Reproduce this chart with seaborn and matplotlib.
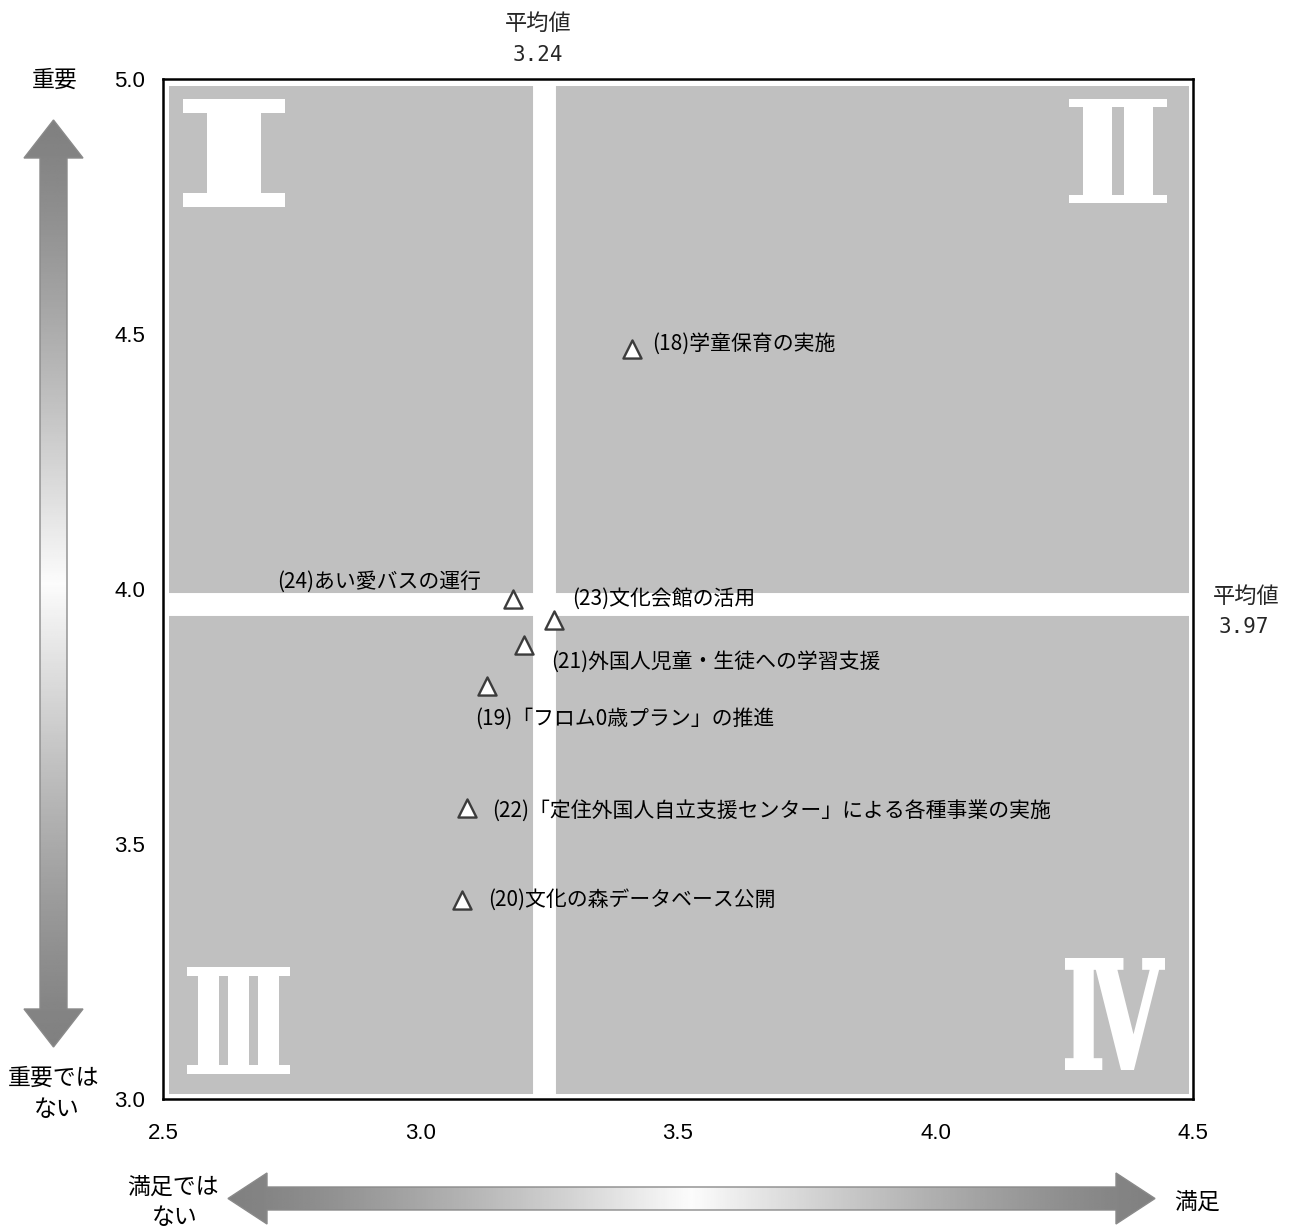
import numpy as np
import pandas as pd
import matplotlib
matplotlib.use("Agg")
import matplotlib.pyplot as plt
import seaborn as sns
from matplotlib.patches import Polygon, PathPatch, Rectangle
from matplotlib.textpath import TextPath
from matplotlib.font_manager import FontProperties, findfont
from matplotlib.ft2font import FT2Font
from matplotlib.transforms import Affine2D

# ---- data -------------------------------------------------------------
labels = [
    "(18)学童保育の実施",
    "(19)「フロム0歳プラン」の推進",
    "(20)文化の森データベース公開",
    "(21)外国人児童・生徒への学習支援",
    "(22)「定住外国人自立支援センター」による各種事業の実施",
    "(23)文化会館の活用",
    "(24)あい愛バスの運行",
]
satisfaction = [3.41, 3.13, 3.08, 3.20, 3.09, 3.26, 3.18]
importance = [4.47, 3.81, 3.39, 3.89, 3.57, 3.94, 3.98]

mean_satisfaction = 3.24
mean_importance = 3.97

x_ticks = [2.5, 3.0, 3.5, 4.0, 4.5]
y_ticks = [3.0, 3.5, 4.0, 4.5, 5.0]
quadrant_names = ["Ⅰ", "Ⅱ", "Ⅲ", "Ⅳ"]

# label placement (pixel offsets from the marker, horizontal alignment)
label_offsets = [(20, 6, "left"), (-12, -33, "left"), (26, 0, "left"),
                 (28, -17, "left"), (25, -2, "left"), (18, 21, "left"),
                 (-32, 17, "right")]

# ---- style ------------------------------------------------------------
sns.set_theme(style="white")
JP = ["Noto Sans CJK JP", "DejaVu Sans"]
plt.rcParams["font.family"] = JP

W, H = 1292, 1227
fig = plt.figure(figsize=(W / 100, H / 100), dpi=100)

# plot frame in pixels
L, T, R, B = 163, 79, 1193, 1099
ax = fig.add_axes([L / W, (H - B) / H, (R - L) / W, (B - T) / H])
ax.set_xlim(2.5, 4.5)
ax.set_ylim(3.0, 5.0)


def px_to_axes(px, py):
    return (px - L) / (R - L), (B - py) / (B - T)


# grey field with white border inset
gx0, gy0 = px_to_axes(169, 1094)
gx1, gy1 = px_to_axes(1189, 86)
ax.add_patch(Rectangle((gx0, gy0), gx1 - gx0, gy1 - gy0, transform=ax.transAxes,
                       facecolor="#c0c0c0", edgecolor="none", zorder=0))

# average lines split the field into four quadrants
ax.axvline(mean_satisfaction, color="white", lw=16.5, zorder=1)
ax.axhline(mean_importance, color="white", lw=16.5, zorder=1)


# roman quadrant numerals
def numeral_font():
    for fam in ["DejaVu Serif", "DejaVu Sans", "Noto Sans CJK JP"]:
        prop = FontProperties(family=fam, weight="bold")
        try:
            f = FT2Font(findfont(prop))
            if all(f.get_char_index(ord(c)) for c in quadrant_names):
                return prop
        except Exception:
            pass
    return FontProperties(family="DejaVu Serif", weight="bold")


nprop = numeral_font()
numeral_boxes = [(183, 99, 285, 207), (1069, 99, 1167, 203),
                 (187, 967, 290, 1074), (1065, 958, 1165, 1070)]
numeral_stroke = [6.0, 0.0, 0.0, 3.0]  # white outline fattening the strokes
for name, (bx0, by0, bx1, by1), st in zip(quadrant_names, numeral_boxes,
                                          numeral_stroke):
    s = st / 2
    bx0, by0, bx1, by1 = bx0 + s, by0 + s, bx1 - s, by1 - s
    tp = TextPath((0, 0), name, size=100, prop=nprop)
    bb = tp.get_extents()
    ax0, ay1 = px_to_axes(bx0, by0)
    ax1, ay0 = px_to_axes(bx1, by1)
    tr = (Affine2D().translate(-bb.x0, -bb.y0)
          .scale((ax1 - ax0) / bb.width, (ay1 - ay0) / bb.height)
          .translate(ax0, ay0)) + ax.transAxes
    ax.add_patch(PathPatch(tp, transform=tr, facecolor="white",
                           edgecolor="white" if st > 0 else "none",
                           lw=st * 0.72, joinstyle="miter", zorder=1.5))

# items
df = pd.DataFrame({"label": labels, "satisfaction": satisfaction,
                   "importance": importance})
sns.scatterplot(data=df, x="satisfaction", y="importance", marker="^", s=170,
                color="white", edgecolor="#3c3c3c", linewidth=1.7,
                ax=ax, zorder=3, legend=False)

for lab, x, y, (dx, dy, ha) in zip(df["label"], df["satisfaction"],
                                   df["importance"], label_offsets):
    ax.annotate(lab, (x, y), xytext=(dx, dy), textcoords="offset pixels",
                ha=ha, va="center", fontsize=15, color="black", zorder=4)

ax.set_xlabel("")
ax.set_ylabel("")
ax.set_xticks(x_ticks)
ax.set_yticks(y_ticks)
ax.set_xticklabels([f"{v:.1f}" for v in x_ticks], fontfamily="Liberation Sans",
                   fontsize=16)
ax.set_yticklabels([f"{v:.1f}" for v in y_ticks], fontfamily="Liberation Sans",
                   fontsize=16)
ax.tick_params(axis="x", length=0, pad=17, colors="black")
ax.tick_params(axis="y", length=0, pad=13, colors="black")
for sp in ax.spines.values():
    sp.set_visible(True)
    sp.set_color("black")
    sp.set_linewidth(1.8)
    sp.set_zorder(5)

# ---- overlay in pixel coordinates: arrows and outer captions -----------
ov = fig.add_axes([0, 0, 1, 1])
ov.set_xlim(0, W)
ov.set_ylim(H, 0)
ov.axis("off")
ov.patch.set_alpha(0)


def gradient_arrow(pts, extent, vertical):
    n = 400
    t = np.linspace(0, 1, n)
    g = 128 + 124 * (1 - np.abs(2 * t - 1)) ** 1.3
    img = g.reshape(-1, 1) if vertical else g.reshape(1, -1)
    poly = Polygon(pts, closed=True, facecolor="none", edgecolor="#8a8a8a",
                   lw=1.0, zorder=3)
    ov.add_patch(poly)
    im = ov.imshow(img, cmap="gray", vmin=0, vmax=255, aspect="auto",
                   extent=extent, interpolation="bilinear", zorder=2)
    im.set_clip_path(poly)


# vertical arrow (importance)
cx, t0, hb0, hb1, t1 = 53.5, 120, 158, 1009, 1047
hw, sw = 29.5, 13.5
v_pts = [(cx, t0), (cx + hw, hb0), (cx + sw, hb0), (cx + sw, hb1), (cx + hw, hb1),
         (cx, t1), (cx - hw, hb1), (cx - sw, hb1), (cx - sw, hb0), (cx - hw, hb0)]
gradient_arrow(v_pts, [cx - hw, cx + hw, t1, t0], vertical=True)

# horizontal arrow (satisfaction)
cy, l0, lb0, lb1, l1 = 1198.5, 228, 267, 1116, 1155
hh, sh = 25.5, 11.5
h_pts = [(l0, cy), (lb0, cy - hh), (lb0, cy - sh), (lb1, cy - sh), (lb1, cy - hh),
         (l1, cy), (lb1, cy + hh), (lb1, cy + sh), (lb0, cy + sh), (lb0, cy + hh)]
gradient_arrow(h_pts, [l0, l1, cy + hh, cy - hh], vertical=False)

cap = dict(ha="center", va="center", fontsize=16.5, color="black")
ov.text(55, 80, "重要", **cap)
ov.text(54, 1078, "重要では", **cap)
ov.text(57, 1110, "ない", **cap)
ov.text(173, 1187, "満足では", **cap)
ov.text(175, 1217, "ない", **cap)
ov.text(1197, 1202, "満足", **cap)

ov.text(538, 23, "平均値", ha="center", va="center", fontsize=16)
ov.text(538, 55, f"{mean_satisfaction:.2f}", ha="center", va="center",
        fontsize=15, fontfamily="DejaVu Sans Mono")
ov.text(1246, 596, "平均値", ha="center", va="center", fontsize=16)
ov.text(1244, 627, f"{mean_importance:.2f}", ha="center", va="center",
        fontsize=15, fontfamily="DejaVu Sans Mono")

fig.savefig("out.png", dpi=100)
